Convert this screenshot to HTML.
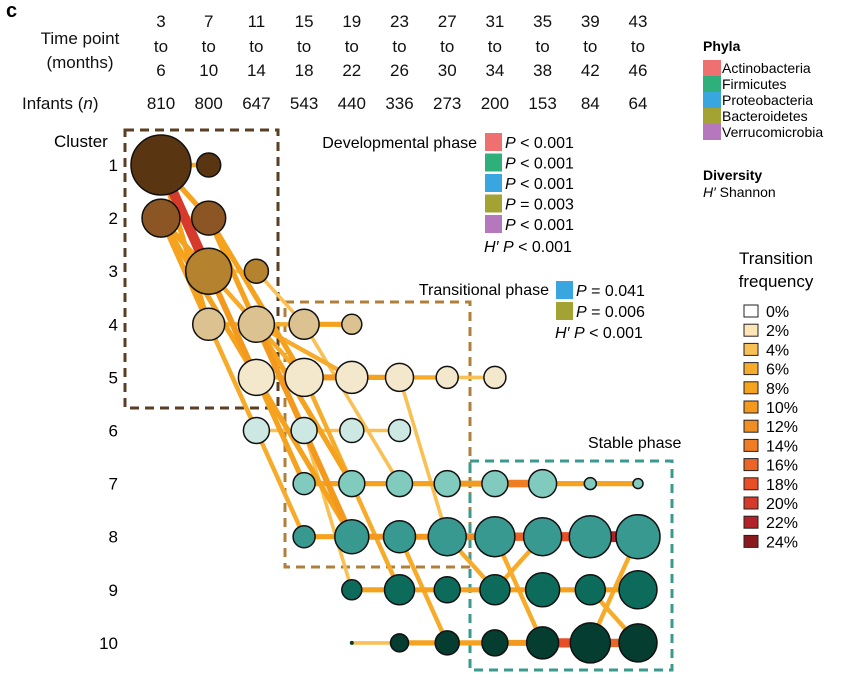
<!DOCTYPE html>
<html><head><meta charset="utf-8"><style>
body{margin:0;background:#fff;}
svg{display:block;font-family:"Liberation Sans",Arial,sans-serif;}
</style></head><body>
<svg id="chart" width="864" height="681" viewBox="0 0 864 681">
<text x="6" y="17" font-size="20" font-weight="bold">c</text>
<g id="header" font-size="17" fill="#111"></g>
<g id="boxes"></g>
<g id="edges"></g>
<g id="nodes"></g>
<g id="rowlabels" font-size="17"></g>
<g id="legend" font-size="15"></g>
</svg>
<script>
const timeStarts=[3,7,11,15,19,23,27,31,35,39,43];
const infants=[810,800,647,543,440,336,273,200,153,84,64];
const clusters=[1,2,3,4,5,6,7,8,9,10];
const clusterColors=["#5a3512","#8b5524","#b5832f","#dcc290","#f3e8cc","#cde8e2","#80cbbd","#379990","#0d6b5c","#053d30"];
// nodes: [cluster, timeIndex, radius-size]
const nodes=[[1,0,30],[1,1,12],[2,0,19],[2,1,17],[3,1,23],[3,2,12],
[4,1,16],[4,2,18],[4,3,15],[4,4,10],
[5,2,18],[5,3,19],[5,4,16],[5,5,14],[5,6,11],[5,7,11],
[6,2,13],[6,3,13],[6,4,12],[6,5,11],
[7,3,11],[7,4,13],[7,5,13],[7,6,13],[7,7,13],[7,8,14],[7,9,6],[7,10,5],
[8,3,11],[8,4,17],[8,5,16],[8,6,19],[8,7,20],[8,8,19],[8,9,21],[8,10,22],
[9,4,10],[9,5,15],[9,6,13],[9,7,15],[9,8,17],[9,9,15],[9,10,19],
[10,4,2],[10,5,9],[10,6,12],[10,7,13],[10,8,16],[10,9,20],[10,10,19]];
// edges: [fromCluster, fromTime, toCluster, toTime, freq%]
const edges=[[1,0,1,1,6],[2,0,2,1,4],[3,1,3,2,4],[4,1,4,2,6],[4,2,4,3,6],[4,3,4,4,8],
[5,2,5,3,6],[5,3,5,4,10],[5,4,5,5,8],[5,5,5,6,6],[5,6,5,7,4],
[6,2,6,3,4],[6,3,6,4,4],[6,4,6,5,4],
[7,3,7,4,8],[7,4,7,5,8],[7,5,7,6,8],[7,6,7,7,10],[7,7,7,8,14],[7,8,7,9,8],[7,9,7,10,8],
[8,3,8,4,8],[8,4,8,5,10],[8,5,8,6,10],[8,6,8,7,12],[8,7,8,8,16],[8,8,8,9,18],[8,9,8,10,22],
[9,4,9,5,8],[9,5,9,6,8],[9,6,9,7,8],[9,7,9,8,8],[9,8,9,9,8],[9,9,9,10,8],
[10,4,10,5,4],[10,5,10,6,8],[10,6,10,7,8],[10,7,10,8,10],[10,8,10,9,18],[10,9,10,10,16],
[1,0,2,1,8],[1,0,3,1,20],[1,0,4,1,8],[2,0,3,1,8],[2,0,4,1,8],[2,0,5,2,8],[2,1,4,2,8],[2,1,5,3,8],
[3,1,4,2,6],[3,1,5,2,10],[3,1,7,3,8],[3,1,5,3,6],[3,2,4,3,4],[4,1,6,2,6],[4,1,8,3,6],
[4,2,7,4,8],[4,2,8,4,10],[4,2,5,4,6],[4,3,7,5,4],[5,2,8,4,8],[5,3,9,5,6],[5,5,8,6,4],
[6,3,9,4,4],[8,5,10,6,6],[8,6,9,7,6],[8,7,10,8,6],[8,8,9,7,6],[9,9,10,10,6],[10,9,8,10,6]];
const freqTicks=[0,2,4,6,8,10,12,14,16,18,20,22,24];
const freqColors=["#ffffff","#fde6b5","#f9c155","#f7ab2a","#f5a21e","#f39a1e","#f18e22","#ef7d24","#eb6626","#e84f27","#d63a2b","#b52129","#8a1a1d"];
const phyla=["Actinobacteria","Firmicutes","Proteobacteria","Bacteroidetes","Verrucomicrobia"];
const phylaColors=["#ef7070","#2fb07b","#3aa6e0","#a3a334","#b678bd"];
const devP=["P < 0.001","P < 0.001","P < 0.001","P = 0.003","P < 0.001"];
const transP=["P = 0.041","P = 0.006"];

const NS="http://www.w3.org/2000/svg";
function mk(tag,attrs,parent){const e=document.createElementNS(NS,tag);for(const k in attrs)e.setAttribute(k,attrs[k]);parent.appendChild(e);return e;}
const xScale=t=>161+t*47.7;
const yScale=c=>165+(c-1)*53.1;
const fIdx=f=>Math.max(0,Math.min(12,Math.round(f/2)));
const wScale=f=>2+f*0.4;

const H=document.getElementById('header');
let t=mk('text',{x:80,y:44,'text-anchor':'middle'},H);t.textContent='Time point';


t=mk('text',{x:80,y:68,'text-anchor':'middle'},H);t.textContent='(months)';
t=mk('text',{x:22,y:109},H);t.innerHTML='Infants (<tspan font-style="italic">n</tspan>)';


timeStarts.forEach((s,i)=>{const x=xScale(i);
 const g=mk('g',{},H);
 
 
 mk('text',{x:x,y:27,'text-anchor':'middle'},g).textContent=s;
 mk('text',{x:x,y:52,'text-anchor':'middle'},g).textContent='to';
 mk('text',{x:x,y:76,'text-anchor':'middle'},g).textContent=s+3;
 const n=mk('text',{x:x,y:109,'text-anchor':'middle'},H);n.textContent=infants[i];
 
 
});

const B=document.getElementById('boxes');
[[125,130,153,278,'#5a3f25','developmental-box'],[285,302,185,265,'#b07f3b','transitional-box'],[470,461,202,209,'#3b9a8e','stable-box']].forEach(b=>{
 const r=mk('rect',{x:b[0],y:b[1],width:b[2],height:b[3],fill:'none',stroke:b[4],'stroke-width':3,'stroke-dasharray':'9 6'},B);
 
 
});

const E=document.getElementById('edges');
edges.slice().sort((a,b)=>a[4]-b[4]).forEach(e=>{
 const l=mk('line',{x1:xScale(e[1]),y1:yScale(e[0]),x2:xScale(e[3]),y2:yScale(e[2]),stroke:freqColors[fIdx(e[4])===0?1:fIdx(e[4])],'stroke-width':wScale(e[4])},E);
 
 
});

const N=document.getElementById('nodes');
nodes.forEach(n=>{
 const c=mk('circle',{cx:xScale(n[1]),cy:yScale(n[0]),r:n[2],fill:clusterColors[n[0]-1],stroke:'#111','stroke-width':n[2]>3?1.5:0},N);
 
 
});

const R=document.getElementById('rowlabels');
t=mk('text',{x:54,y:147},R);t.textContent='Cluster';
clusters.forEach(c=>{const e=mk('text',{x:118,y:yScale(c)+6,'text-anchor':'end'},R);e.textContent=c;
 
 });

const L=document.getElementById('legend');
t=mk('text',{x:477,y:148,'text-anchor':'end','font-size':16},L);t.textContent='Developmental phase';
devP.forEach((p,i)=>{const y=133+i*20.5;
 mk('rect',{x:485,y:y,width:17,height:18,fill:phylaColors[i]},L);
 const tx=mk('text',{x:505,y:y+15,'font-size':16},L);tx.innerHTML='<tspan font-style="italic">P</tspan>'+p.slice(1);});
t=mk('text',{x:484,y:252,'font-size':16},L);t.innerHTML='<tspan font-style="italic">H′ P</tspan> &lt; 0.001';
t=mk('text',{x:549,y:295,'text-anchor':'end','font-size':16},L);t.textContent='Transitional phase';
transP.forEach((p,i)=>{const y=281+i*21;
 mk('rect',{x:556,y:y,width:17,height:18,fill:phylaColors[i===0?2:3]},L);
 mk('text',{x:576,y:y+15,'font-size':16},L).innerHTML='<tspan font-style="italic">P</tspan>'+p.slice(1);});
t=mk('text',{x:555,y:338,'font-size':16},L);t.innerHTML='<tspan font-style="italic">H′ P</tspan> &lt; 0.001';
t=mk('text',{x:588,y:448,'font-size':16},L);t.textContent='Stable phase';

t=mk('text',{x:703,y:51,'font-weight':'bold','font-size':14},L);t.textContent='Phyla';
phyla.forEach((p,i)=>{const y=60+i*16;
 mk('rect',{x:703,y:y,width:18,height:16,fill:phylaColors[i]},L);
 const e=mk('text',{x:722,y:y+13,'font-size':14},L);e.textContent=p;
 
 });
t=mk('text',{x:703,y:180,'font-weight':'bold','font-size':14},L);t.textContent='Diversity';
t=mk('text',{x:703,y:197,'font-size':14},L);t.innerHTML='<tspan font-style="italic">H′</tspan> Shannon';
t=mk('text',{x:776,y:264,'text-anchor':'middle','font-size':17},L);t.textContent='Transition';
t=mk('text',{x:776,y:287,'text-anchor':'middle','font-size':17},L);t.textContent='frequency';
freqTicks.forEach((f,i)=>{const y=305+i*19.2;
 mk('rect',{x:744,y:y,width:14,height:12,fill:freqColors[i],stroke:'#222','stroke-width':1},L);
 const e=mk('text',{x:766,y:y+12,'font-size':16},L);e.textContent=f+'%';
 
 });
</script>
</body></html>
